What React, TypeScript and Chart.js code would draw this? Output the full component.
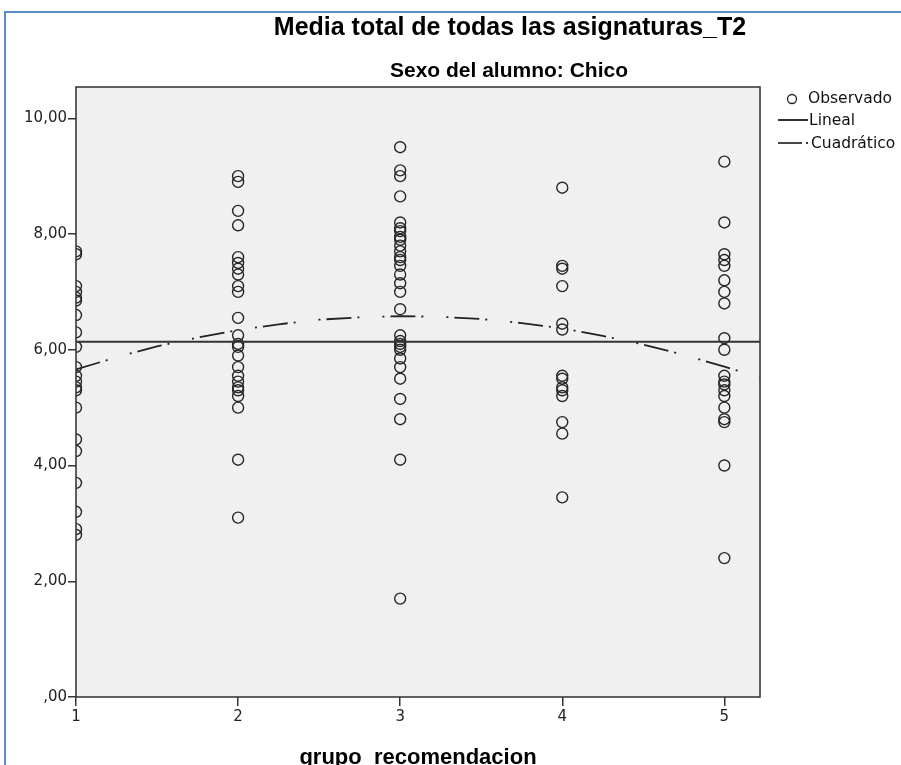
import { useEffect, useRef } from "react";
import { Chart, registerables } from "chart.js";

Chart.register(...registerables);

// ---- Data ----
const groupLevels = [1, 2, 3, 4, 5];
const group1 = [7.7, 7.65, 7.1, 7.0, 6.9, 6.85, 6.6, 6.3, 6.05, 5.7, 5.55, 5.45, 5.35, 5.3, 5.0, 4.45, 4.25, 3.7, 3.2, 2.9, 2.8];
const group2 = [9.0, 8.9, 8.4, 8.15, 7.6, 7.5, 7.4, 7.3, 7.1, 7.0, 6.55, 6.25, 6.1, 6.05, 5.9, 5.7, 5.55, 5.45, 5.35, 5.3, 5.2, 5.0, 4.1, 3.1];
const group3 = [9.5, 9.1, 9.0, 8.65, 8.2, 8.1, 8.05, 7.95, 7.9, 7.8, 7.7, 7.6, 7.55, 7.45, 7.3, 7.15, 7.0, 6.7, 6.25, 6.15, 6.1, 6.05, 6.0, 5.85, 5.7, 5.5, 5.15, 4.8, 4.1, 1.7];
const group4 = [8.8, 7.45, 7.4, 7.1, 6.45, 6.35, 5.55, 5.5, 5.35, 5.3, 5.2, 4.75, 4.55, 3.45];
const group5 = [9.25, 8.2, 7.65, 7.55, 7.45, 7.2, 7.0, 6.8, 6.2, 6.0, 5.55, 5.45, 5.4, 5.3, 5.2, 5.0, 4.8, 4.75, 4.0, 2.4];
const groupValues = [group1, group2, group3, group4, group5];

const linealX = [1, 5.22];
const linealY = [6.14, 6.14];

const quadX = [1, 1.25, 1.5, 1.75, 2, 2.25, 2.5, 2.75, 3, 3.25, 3.5, 3.75, 4, 4.25, 4.5, 4.75, 5, 5.22];
const quadY = [5.66, 5.87, 6.06, 6.21, 6.34, 6.44, 6.52, 6.56, 6.58, 6.57, 6.53, 6.46, 6.37, 6.24, 6.09, 5.91, 5.71, 5.52];

const xTickValues = [1, 2, 3, 4, 5];
const yTickValues = [0, 2, 4, 6, 8, 10];

const titleText = "Media total de todas las asignaturas_T2";
const subtitleText = "Sexo del alumno: Chico";
const xAxisTitle = "grupo_recomendacion";
const legendLabels = ["Observado", "Lineal", "Cuadrático"];

const X_MIN = 1;
const X_MAX = 5.22;
const Y_MIN = 0;
const Y_MAX = 10.54;

const QUAD_DASH = [25, 6, 2, 23, 2, 6];

export default function App() {
  const canvasRef = useRef<HTMLCanvasElement | null>(null);

  useEffect(() => {
    document.body.style.margin = "0";
    const canvas = canvasRef.current;
    if (!canvas) return;

    const observed: { x: number; y: number }[] = [];
    groupValues.forEach((vals, i) => {
      vals.forEach((v) => observed.push({ x: groupLevels[i], y: v }));
    });
    const linealData = linealX.map((x, i) => ({ x, y: linealY[i] }));
    const quadData = quadX.map((x, i) => ({ x, y: quadY[i] }));

    const decor = {
      id: "spssDecor",
      beforeDatasetsDraw(chart: any) {
        const { ctx, chartArea } = chart;
        ctx.save();
        ctx.fillStyle = "#f0f0f0";
        ctx.fillRect(chartArea.left, chartArea.top, chartArea.right - chartArea.left, chartArea.bottom - chartArea.top);
        ctx.restore();
      },
      afterDatasetsDraw(chart: any) {
        const { ctx, chartArea } = chart;
        ctx.save();
        ctx.strokeStyle = "#3a3a3a";
        ctx.lineWidth = 1.6;
        ctx.strokeRect(chartArea.left, chartArea.top, chartArea.right - chartArea.left, chartArea.bottom - chartArea.top);
        ctx.restore();
      },
      afterDraw(chart: any) {
        const { ctx, chartArea } = chart;
        ctx.save();
        // blue page border
        ctx.fillStyle = "#5b8ccc";
        ctx.fillRect(4, 11, 2, 760);
        ctx.fillRect(4, 11, 897, 2);

        // titles
        ctx.fillStyle = "#000";
        ctx.textAlign = "center";
        ctx.textBaseline = "alphabetic";
        ctx.font = "bold 25px 'Liberation Sans', Arial, sans-serif";
        ctx.fillText(titleText, 510, 35);
        ctx.font = "bold 21px 'Liberation Sans', Arial, sans-serif";
        ctx.fillText(subtitleText, 509, 77);

        // x axis title (cut off by the bottom edge, as in the reference)
        ctx.font = "bold 22px 'Liberation Sans', Arial, sans-serif";
        ctx.fillText(xAxisTitle, (chartArea.left + chartArea.right) / 2, 764);

        // legend
        ctx.textAlign = "left";
        ctx.textBaseline = "middle";
        ctx.font = "15.5px 'DejaVu Sans', sans-serif";
        ctx.fillStyle = "#111";
        ctx.strokeStyle = "#222";
        ctx.lineWidth = 1.3;
        ctx.beginPath();
        ctx.arc(792, 99, 4.5, 0, Math.PI * 2);
        ctx.stroke();
        ctx.fillText(legendLabels[0], 808, 99);

        ctx.lineWidth = 2;
        ctx.strokeStyle = "#333";
        ctx.beginPath();
        ctx.moveTo(778, 120);
        ctx.lineTo(808, 120);
        ctx.stroke();
        ctx.fillText(legendLabels[1], 809, 121);

        ctx.lineWidth = 1.8;
        ctx.strokeStyle = "#333";
        ctx.beginPath();
        ctx.moveTo(778, 143);
        ctx.lineTo(802, 143);
        ctx.stroke();
        ctx.beginPath();
        ctx.moveTo(806, 143);
        ctx.lineTo(808, 143);
        ctx.stroke();
        ctx.fillText(legendLabels[2], 811, 144);
        ctx.restore();
      },
    };

    const chart = new Chart(canvas, {
      type: "scatter",
      data: {
        datasets: [
          {
            label: legendLabels[0],
            data: observed,
            pointStyle: "circle",
            pointRadius: 5.5,
            pointBorderWidth: 1.4,
            pointBorderColor: "#262626",
            pointBackgroundColor: "rgba(0,0,0,0)",
            showLine: false,
            clip: 0,
            order: 3,
          } as any,
          {
            label: legendLabels[1],
            data: linealData,
            showLine: true,
            borderColor: "#333333",
            borderWidth: 2,
            pointRadius: 0,
            fill: false,
            clip: 0,
            order: 2,
          } as any,
          {
            label: legendLabels[2],
            data: quadData,
            showLine: true,
            borderColor: "#222222",
            borderWidth: 1.8,
            borderDash: QUAD_DASH,
            pointRadius: 0,
            fill: false,
            clip: 0,
            order: 1,
          } as any,
        ],
      },
      options: {
        animation: false,
        responsive: false,
        maintainAspectRatio: false,
        layout: { padding: { left: 0, right: 141, top: 87, bottom: 0 } },
        plugins: {
          legend: { display: false },
          title: { display: false },
          tooltip: { enabled: false },
        },
        scales: {
          x: {
            type: "linear",
            min: X_MIN,
            max: X_MAX,
            afterFit: (s: any) => {
              s.height = 83;
            },
            afterBuildTicks: (s: any) => {
              s.ticks = xTickValues.map((v) => ({ value: v }));
            },
            ticks: {
              autoSkip: false,
              maxRotation: 0,
              padding: 2,
              color: "#222",
              font: { family: "'DejaVu Sans', sans-serif", size: 15 },
              callback: (v: any) => String(v),
            },
            grid: {
              display: true,
              drawOnChartArea: false,
              drawTicks: true,
              tickLength: 9,
              color: "#333",
              lineWidth: 1.5,
            },
            border: { display: false },
          },
          y: {
            type: "linear",
            min: Y_MIN,
            max: Y_MAX,
            afterFit: (s: any) => {
              s.width = 76;
            },
            afterBuildTicks: (s: any) => {
              s.ticks = yTickValues.map((v) => ({ value: v }));
            },
            ticks: {
              autoSkip: false,
              padding: 1,
              color: "#222",
              font: { family: "'DejaVu Sans', sans-serif", size: 15 },
              callback: (v: any) => (Number(v) === 0 ? ",00" : Number(v).toFixed(2).replace(".", ",")),
            },
            grid: {
              display: true,
              drawOnChartArea: false,
              drawTicks: true,
              tickLength: 8,
              color: "#333",
              lineWidth: 1.5,
            },
            border: { display: false },
          },
        },
      } as any,
      plugins: [decor],
    });

    return () => chart.destroy();
  }, []);

  return (
    <div style={{ position: "relative", width: 901, height: 765, overflow: "hidden", background: "#fff" }}>
      <canvas ref={canvasRef} width={901} height={780} style={{ display: "block", width: 901, height: 780 }} />
    </div>
  );
}
